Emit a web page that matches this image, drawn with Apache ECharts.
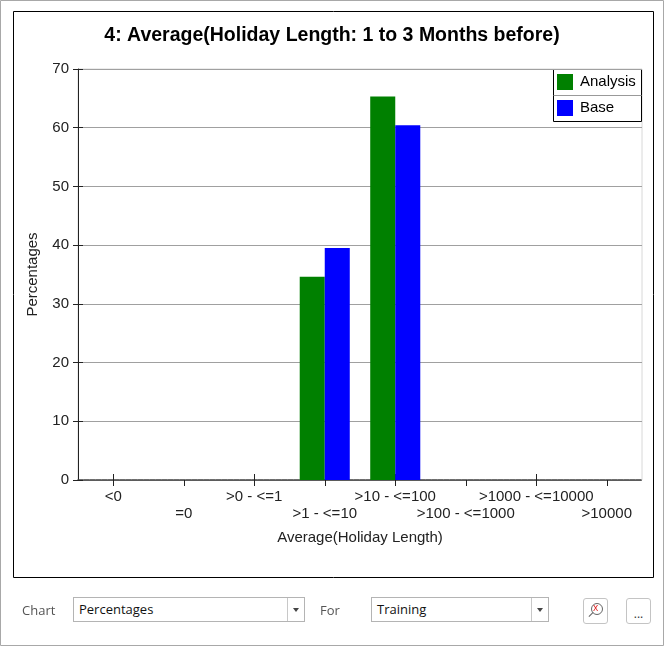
<!DOCTYPE html>
<html>
<head>
<meta charset="utf-8">
<script src="https://cdn.jsdelivr.net/npm/echarts@6/dist/echarts.min.js"></script>
<style>
	body { margin: 0; background: #fff; font-family: "Liberation Sans", Arial, sans-serif; }
	#wrap { position: relative; width: 664px; height: 646px; overflow: hidden; }
	#chart { position: absolute; left: 0; top: 0; width: 664px; height: 646px; }
	.lbl { position: absolute; font-family: "Open Sans", "Noto Sans", sans-serif; font-size: 13px; color: #555; }
	.combo { position: absolute; height: 25px; border: 1px solid #b4b4b4; background: #fff; box-sizing: border-box;
		font-family: "Open Sans", "Noto Sans", sans-serif; font-size: 13px; color: #111; line-height: 23px; padding-left: 5px; }
	.combo .drop { position: absolute; right: 0; top: 0; width: 16px; height: 23px; border-left: 1px solid #c8c8c8; }
	.combo .drop:after { content: ''; position: absolute; left: 5px; top: 10px; border-left: 3px solid transparent;
		border-right: 3px solid transparent; border-top: 4px solid #444; }
	.btn { position: absolute; width: 25px; height: 26px; border: 1px solid #c4c4c4; border-radius: 3px; box-sizing: border-box;
		background: #fff; font-family: "Open Sans", sans-serif; font-size: 12px; color: #333; text-align: center; }
</style>
</head>
<body>
<div id="wrap">
	<div id="chart"></div>
	<div class="lbl" style="left:22px;top:601px;">Chart</div>
	<div class="combo" style="left:73px;top:597px;width:232px;">Percentages<div class="drop"></div></div>
	<div class="lbl" style="left:320px;top:601px;">For</div>
	<div class="combo" style="left:371px;top:597px;width:178px;">Training<div class="drop"></div></div>
	<div class="btn" style="left:583px;top:598px;">
		<div style="position:absolute;left:7px;top:4px;width:10px;height:10px;border:1px solid #666;border-radius:50%;"></div>
		<div style="position:absolute;left:9px;top:1px;font-size:10px;color:#e02020;line-height:14px;">x</div>
		<div style="position:absolute;left:4px;top:15px;width:6px;height:1px;background:#666;transform:rotate(-45deg);"></div>
	</div>
	<div class="btn" style="left:626px;top:598px;line-height:30px;">...</div>
</div>
<script>
	'use strict'
	/*-----data-----*/
	var categories = ['<0', '=0', '>0 - <=1', '>1 - <=10', '>10 - <=100', '>100 - <=1000', '>1000 - <=10000', '>10000'];
	var analysisValues = [0, 0, 0, 34.6, 65.3, 0, 0, 0];
	var baseValues = [0, 0, 0, 39.5, 60.4, 0, 0, 0];
	var yTicks = { min: 0, max: 70, interval: 10 };

	var chart = echarts.init(document.getElementById('chart'));
	var font = '"Liberation Sans", Arial, sans-serif';
	var option = {
		animation: false,
		title: {
			text: '4: Average(Holiday Length: 1 to 3 Months before)',
			left: 'center',
			top: 21,
			textStyle: { fontFamily: font, fontSize: 19.5, fontWeight: 'bold', color: '#000' }
		},
		legend: {
			orient: 'vertical',
			left: 557,
			top: 74,
			itemWidth: 16,
			itemHeight: 16,
			itemGap: 10,
			padding: 0,
			icon: 'rect',
			textStyle: { fontFamily: font, fontSize: 15, color: '#000', padding: [0, 0, 0, 2] },
			data: ['Analysis', 'Base']
		},
		grid: {
			left: 78,
			top: 69,
			width: 564,
			height: 411,
			show: true,
			borderColor: '#d8d8d8',
			borderWidth: 1,
			containLabel: false
		},
		xAxis: [{
			type: 'category',
			data: categories,
			name: 'Average(Holiday Length)',
			nameLocation: 'middle',
			nameGap: 50,
			nameTextStyle: { fontFamily: font, fontSize: 15, color: '#222' },
			axisLine: { lineStyle: { color: '#444', width: 1.5, type: [5, 1] } },
			axisTick: { show: true, alignWithLabel: true, length: 6, lineStyle: { color: '#222' } },
			axisLabel: {
				interval: 0,
				margin: 8,
				fontFamily: font,
				fontSize: 15,
				color: '#222',
				lineHeight: 17,
				formatter: function(value, index) {
					return index % 2 === 1 ? '\n' + value : value;
				}
			}
		}, {
			type: 'category',
			data: categories,
			position: 'bottom',
			axisLine: { show: false },
			axisTick: { show: true, inside: true, alignWithLabel: true, length: 6, lineStyle: { color: '#222' } },
			axisLabel: { show: false }
		}],
		yAxis: [{
			type: 'value',
			min: yTicks.min,
			max: yTicks.max,
			interval: yTicks.interval,
			name: 'Percentages',
			nameLocation: 'middle',
			nameGap: 38,
			nameTextStyle: { fontFamily: font, fontSize: 15, color: '#222' },
			axisLine: { show: true, lineStyle: { color: '#222' } },
			axisTick: { show: true, length: 5, lineStyle: { color: '#222' } },
			axisLabel: { fontFamily: font, fontSize: 15, color: '#222', margin: 9 },
			splitLine: { lineStyle: { color: '#a0a0a0' } }
		}, {
			type: 'value',
			min: yTicks.min,
			max: yTicks.max,
			interval: yTicks.interval,
			position: 'left',
			axisLine: { show: false },
			axisTick: { show: true, inside: true, length: 5, lineStyle: { color: '#222' } },
			axisLabel: { show: false },
			splitLine: { show: false }
		}],
		series: [{
			name: 'Analysis',
			type: 'bar',
			data: analysisValues,
			barGap: '0%',
			barCategoryGap: '29%',
			itemStyle: { color: '#008000' }
		}, {
			name: 'Base',
			type: 'bar',
			data: baseValues,
			itemStyle: { color: '#0000ff' }
		}],
		graphic: [{
			type: 'rect',
			shape: { x: 0.5, y: 0.5, width: 663, height: 645 },
			style: { fill: 'none', stroke: '#a8a8a8', lineWidth: 1 },
			silent: true
		}, {
			type: 'rect',
			shape: { x: 13.5, y: 11.5, width: 640, height: 566 },
			style: { fill: 'none', stroke: '#000', lineWidth: 1 },
			silent: true
		}, {
			type: 'rect',
			shape: { x: 553.5, y: 69.5, width: 88, height: 52 },
			style: { fill: 'none', stroke: '#000', lineWidth: 1 },
			silent: true
		}, {
			type: 'line',
			shape: { x1: 553.5, y1: 95.5, x2: 641.5, y2: 95.5 },
			style: { stroke: '#999', lineWidth: 1 },
			silent: true
		}]
	};
	chart.setOption(option);
</script>
</body>
</html>
